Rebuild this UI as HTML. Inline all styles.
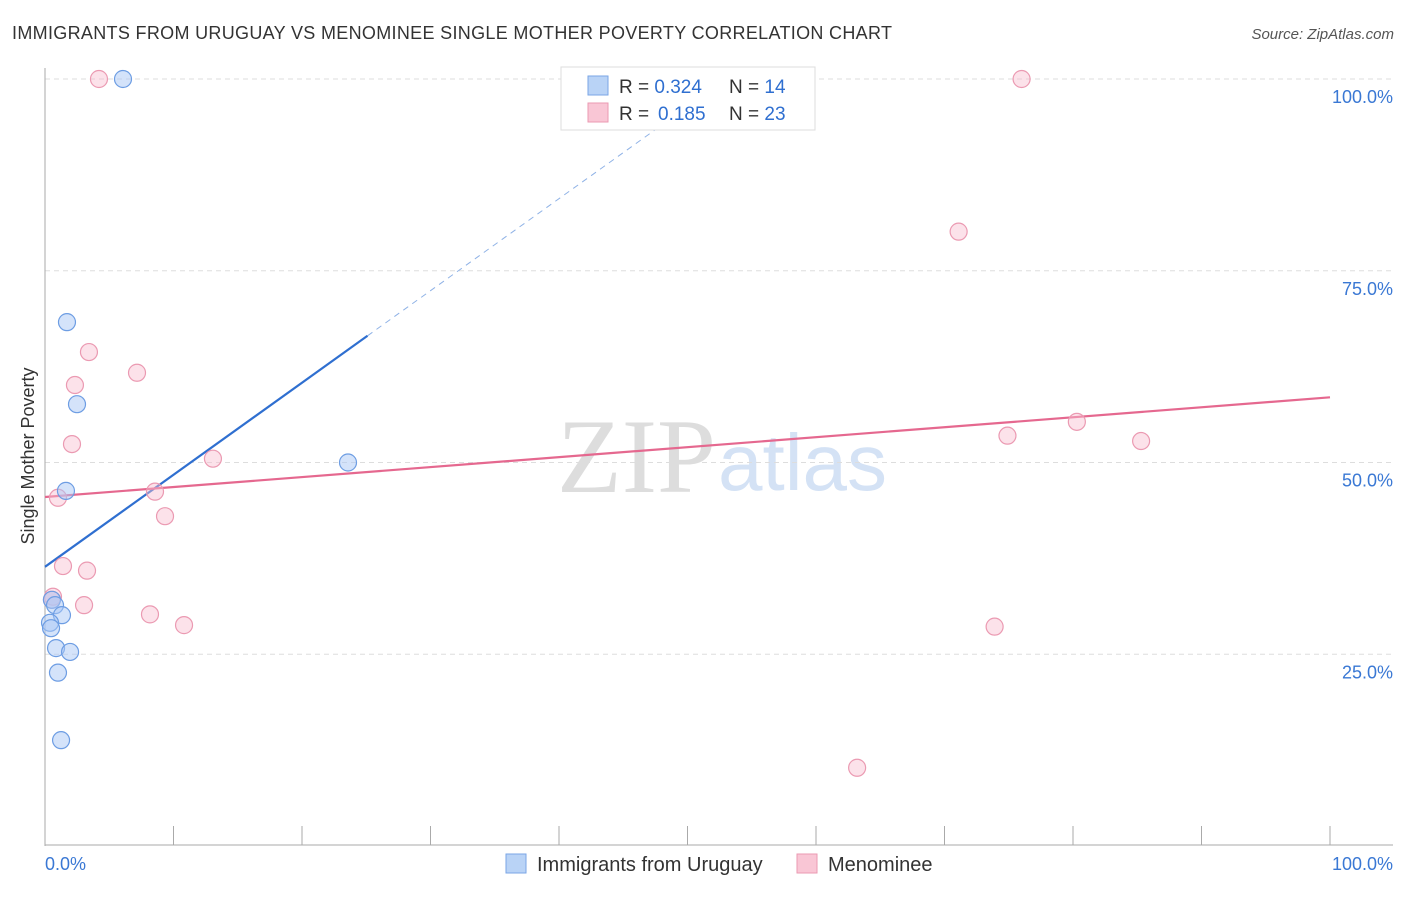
<!DOCTYPE html>
<html><head><meta charset="utf-8"><style>
body{margin:0;background:#fff;font-family:"Liberation Sans",sans-serif;}
</style></head><body>
<svg width="1406" height="892" viewBox="0 0 1406 892" id="chart" font-family="Liberation Sans, sans-serif">
<text x="12" y="39" font-size="18" fill="#333" textLength="880">IMMIGRANTS FROM URUGUAY VS MENOMINEE SINGLE MOTHER POVERTY CORRELATION CHART</text>
<text x="1394" y="39" font-size="15" fill="#555" font-style="italic" text-anchor="end">Source: ZipAtlas.com</text>
<text x="716" y="492" font-size="106" fill="#ddd" text-anchor="end" font-family="Liberation Serif, serif">ZIP</text>
<text x="718" y="490" font-size="80" fill="#d4e2f5">atlas</text>
<text transform="translate(34,456) rotate(-90)" font-size="18" fill="#333" text-anchor="middle">Single Mother Poverty</text>
<g id="grid"></g><g id="axes"></g><g id="trends"></g><g id="pts"></g>
<g>
<rect x="561" y="67" width="254" height="63" fill="#fff" stroke="#ddd"/>
<rect x="588" y="76" width="20" height="19" fill="#b9d3f6" stroke="#7aa6e6"/>
<rect x="588" y="103" width="20" height="19" fill="#f9c6d5" stroke="#eb9ab2"/>
<text x="619" y="93" font-size="19" fill="#333">R = <tspan fill="#2f6fd0">0.324</tspan><tspan x="729">N = </tspan><tspan fill="#2f6fd0">14</tspan></text>
<text x="619" y="120" font-size="19" fill="#333">R = <tspan x="658" fill="#2f6fd0">0.185</tspan><tspan x="729">N = </tspan><tspan fill="#2f6fd0">23</tspan></text>
</g>
<g>
<rect x="506" y="854" width="20" height="19" fill="#b9d3f6" stroke="#7aa6e6"/>
<text x="537" y="871" font-size="20" fill="#333">Immigrants from Uruguay</text>
<rect x="797" y="854" width="20" height="19" fill="#f9c6d5" stroke="#eb9ab2"/>
<text x="828" y="871" font-size="20" fill="#333">Menominee</text>
</g>
</svg>
<script>
const blueX=[6.07,1.71,2.49,1.63,23.58,0.54,0.78,1.32,0.39,0.47,0.86,1.95,1.01,1.25];
const blueY=[100,68.3,57.6,46.3,50.0,32.1,31.4,30.1,29.1,28.4,25.8,25.3,22.6,13.8];
const pinkX=[4.2,76.0,71.1,3.42,7.16,2.33,2.10,13.07,74.9,80.3,85.3,8.56,1.01,9.34,1.40,3.27,0.62,0.54,3.04,8.17,10.82,73.9,63.2];
const pinkY=[100,100,80.1,64.4,61.7,60.1,52.4,50.5,53.5,55.3,52.8,46.2,45.4,43.0,36.5,35.9,32.5,32.1,31.4,30.2,28.8,28.6,10.2];
const yTicks=[25,50,75,100];
const yTickLabels=["25.0%","50.0%","75.0%","100.0%"];
const xTicks=[0,10,20,30,40,50,60,70,80,90,100];
const blueTrend=[36.4,1.2];   // intercept, slope
const pinkTrend=[45.5,0.13];
const NS='http://www.w3.org/2000/svg';
const X=v=>45+v*12.85, Y=v=>846-v*7.67;
function mk(t,a,p){const e=document.createElementNS(NS,t);for(const k in a)e.setAttribute(k,a[k]);p.appendChild(e);return e;}
const grid=document.getElementById('grid'),axes=document.getElementById('axes'),tr=document.getElementById('trends'),pts=document.getElementById('pts');
yTicks.forEach((t,i)=>{
 const l=mk('line',{x1:45,x2:1393,y1:Y(t),y2:Y(t),stroke:'#ddd','stroke-dasharray':'5,4'},grid);
 
 
 const tx=mk('text',{x:1393,y:Y(t)+24,'font-size':18,fill:'#3a78d4','text-anchor':'end'},grid);
 tx.textContent=yTickLabels[i];
 
 
});
const ya=mk('line',{x1:45,x2:45,y1:68,y2:846,stroke:'#aaa'},axes);


const xa=mk('line',{x1:45,x2:1393,y1:845,y2:845,stroke:'#aaa'},axes);


xTicks.forEach(t=>{
 const l=mk('line',{x1:X(t),x2:X(t),y1:826,y2:845,stroke:'#aaa'},axes);
 
 
});
[['0.0%',45,'start'],['100.0%',1393,'end']].forEach(a=>{
 const t=mk('text',{x:a[1],y:870,'font-size':18,fill:'#3a78d4','text-anchor':a[2]},axes);t.textContent=a[0];
 
 
});
const bEnd=25.1, bDash=47.5;
let l=mk('line',{x1:X(0),y1:Y(blueTrend[0]),x2:X(bEnd),y2:Y(blueTrend[0]+blueTrend[1]*bEnd),stroke:'#2f6fd0','stroke-width':2.2},tr);


l=mk('line',{x1:X(bEnd),y1:Y(blueTrend[0]+blueTrend[1]*bEnd),x2:X(bDash),y2:Y(blueTrend[0]+blueTrend[1]*bDash),stroke:'#8fb2e6','stroke-width':1,'stroke-dasharray':'6,5'},tr);


l=mk('line',{x1:X(0),y1:Y(pinkTrend[0]),x2:X(100),y2:Y(pinkTrend[0]+pinkTrend[1]*100),stroke:'#e5688f','stroke-width':2.2},tr);


pinkX.forEach((x,i)=>{
 const c=mk('circle',{cx:X(x),cy:Y(pinkY[i]),r:8.5,fill:'rgba(249,190,208,0.45)',stroke:'#eb9ab2','stroke-width':1.2},pts);
 
 
});
blueX.forEach((x,i)=>{
 const c=mk('circle',{cx:X(x),cy:Y(blueY[i]),r:8.5,fill:'rgba(170,200,245,0.5)',stroke:'#6d9de3','stroke-width':1.2},pts);
 
 
});
</script>
</body></html>
